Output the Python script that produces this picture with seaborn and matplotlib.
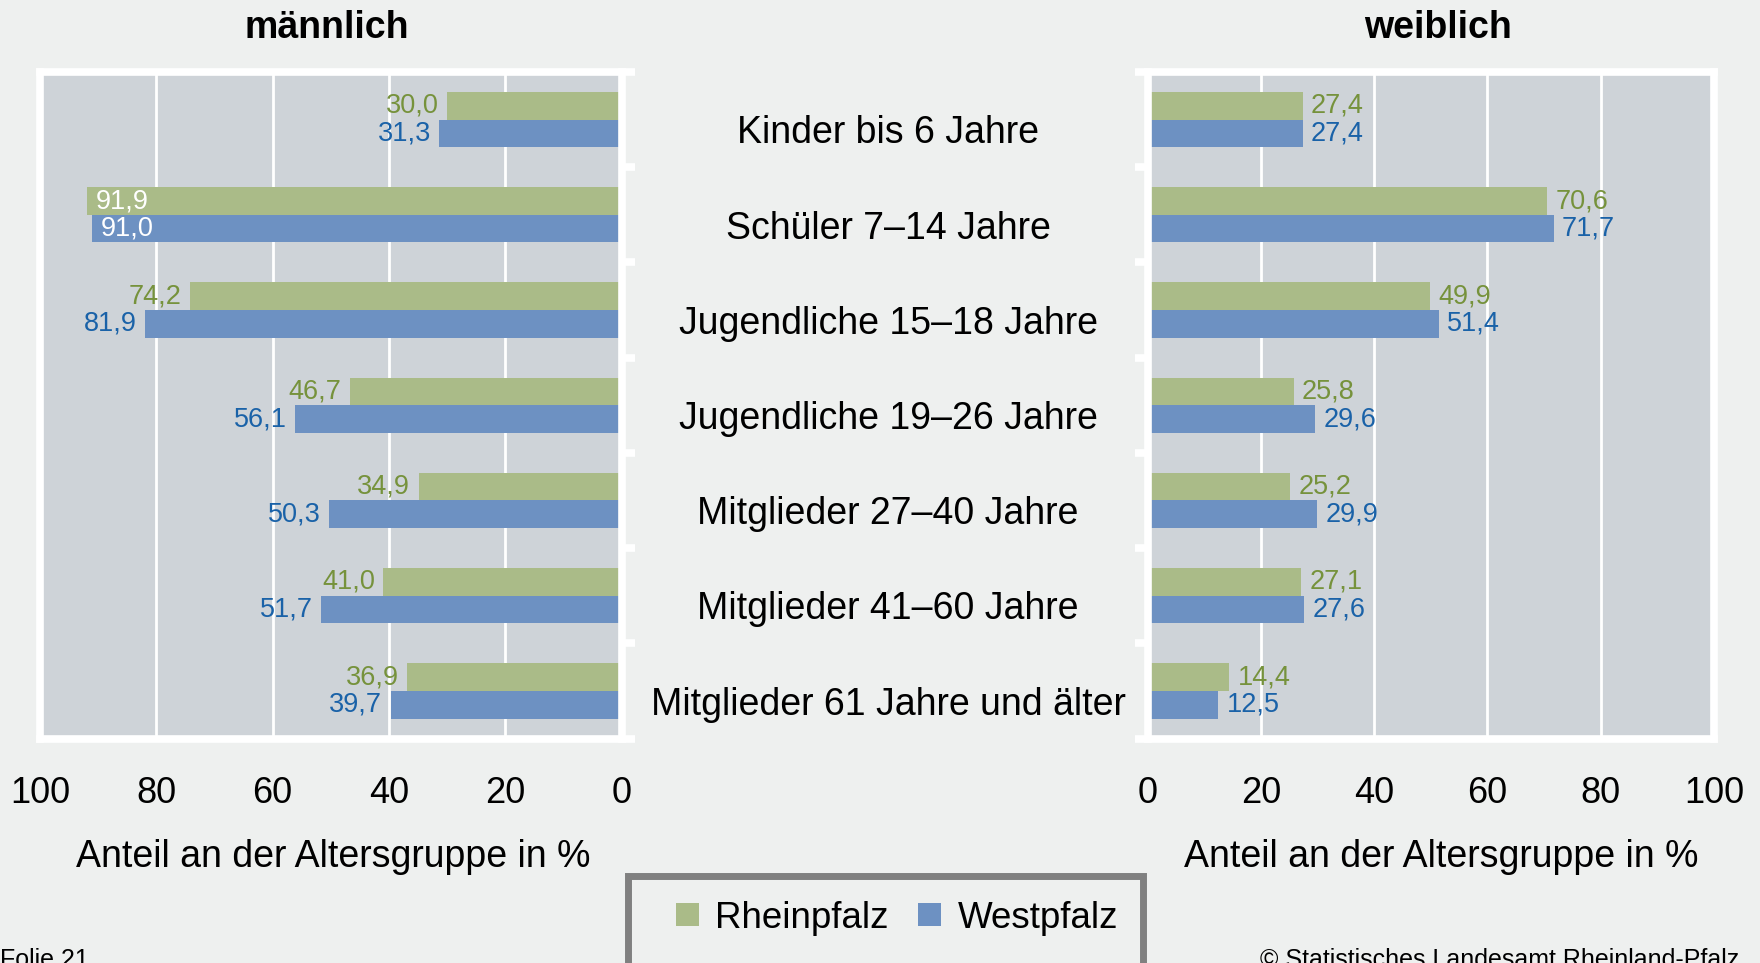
import numpy as np
import pandas as pd
import matplotlib
matplotlib.use('Agg')
import matplotlib.pyplot as plt
import matplotlib.transforms as mtransforms
from matplotlib.patches import Patch, Rectangle
import seaborn as sns

# data
gruppen = ["Kinder bis 6 Jahre", "Schüler 7–14 Jahre", "Jugendliche 15–18 Jahre",
           "Jugendliche 19–26 Jahre", "Mitglieder 27–40 Jahre", "Mitglieder 41–60 Jahre",
           "Mitglieder 61 Jahre und älter"]
regionen = ["Rheinpfalz", "Westpfalz"]
maennlich_rhein = [30.0, 91.9, 74.2, 46.7, 34.9, 41.0, 36.9]
maennlich_west = [31.3, 91.0, 81.9, 56.1, 50.3, 51.7, 39.7]
weiblich_rhein = [27.4, 70.6, 49.9, 25.8, 25.2, 27.1, 14.4]
weiblich_west = [27.4, 71.7, 51.4, 29.6, 29.9, 27.6, 12.5]
x_ticks = [0, 20, 40, 60, 80, 100]

BG = '#EEF0EF'
PANEL = '#CED3D8'
GREEN = '#AABB88'
BLUE = '#6D91C2'
GREEN_TXT = '#76923C'
BLUE_TXT = '#1A62A8'

sns.set_theme(style='white', rc={'figure.facecolor': BG, 'axes.facecolor': PANEL,
                                 'text.color': 'black', 'axes.labelcolor': 'black'})
plt.rcParams['font.family'] = ['Liberation Sans', 'DejaVu Sans']

W, H = 1760, 963


def make_df(rhein, west):
    return pd.DataFrame({
        'Gruppe': gruppen * 2,
        'Region': [regionen[0]] * len(gruppen) + [regionen[1]] * len(gruppen),
        'Wert': list(rhein) + list(west),
    })


fig = plt.figure(figsize=(W / 100, H / 100), dpi=100)
axL = fig.add_axes([40 / W, 1 - 738.5 / H, 581.5 / W, 666.5 / H])
axR = fig.add_axes([1147.5 / W, 1 - 738.5 / H, 566.5 / W, 666.5 / H])

# (axes, data, title, mirrored x, title x in px, x label position in axes fraction)
panels = [
    (axL, make_df(maennlich_rhein, maennlich_west), 'männlich', True, 326.6, 0.504),
    (axR, make_df(weiblich_rhein, weiblich_west), 'weiblich', False, 1438, 0.518),
]

ylim = (6.5, -0.5)
for ax, df, title, mirrored, title_x, label_x in panels:
    sns.barplot(data=df, y='Gruppe', x='Wert', hue='Region', order=gruppen,
                hue_order=regionen, palette=[GREEN, BLUE], saturation=1,
                width=0.58, orient='h', linewidth=0, legend=False, ax=ax)
    ax.set_ylim(*ylim)
    if mirrored:
        ax.set_xlim(100, 0)
    else:
        ax.set_xlim(0, 100)
    ax.set_xticks(x_ticks)
    ax.set_xticklabels([str(t) for t in x_ticks], fontsize=26, color='black')
    ax.set_yticks([ylim[1], 0.5, 1.5, 2.5, 3.5, 4.5, 5.5, ylim[0]])
    ax.set_yticklabels([])
    ax.set_ylabel('')
    ax.set_xlabel('Anteil an der Altersgruppe in %', fontsize=27, labelpad=20)
    ax.xaxis.label.set_x(label_x)
    fig.text(title_x / W, 1 - 28.3 / H, title, ha='center', va='center',
             fontsize=27, fontweight='bold')
    ax.set_axisbelow(True)
    ax.grid(axis='x', color='white', linewidth=2)
    for sp in ax.spines.values():
        sp.set_color('white')
        sp.set_linewidth(5.5)
    ax.tick_params(axis='x', colors='white', width=5.5, length=9.5, pad=17.5, labelcolor='black')
    if mirrored:
        ax.tick_params(axis='y', left=False, right=True, colors='white', width=5.5, length=9.5)
    else:
        ax.tick_params(axis='y', left=True, right=False, colors='white', width=5.5, length=9.5)

    # value labels: outside the bar end, inside (white) for the longest bars
    vals = df['Wert'].to_numpy()
    n = len(gruppen)
    for j, (off, col) in enumerate([(-0.145, GREEN_TXT), (0.145, BLUE_TXT)]):
        for i in range(n):
            v = vals[j * n + i]
            lbl = f'{v:.1f}'.replace('.', ',')
            if v > 85:
                ax.annotate(lbl, (v, i + off), xytext=(6, 0), textcoords='offset points',
                            ha='left', va='center', color='white', fontsize=19.5)
            else:
                ax.annotate(lbl, (v, i + off), xytext=(-6 if mirrored else 6, 0),
                            textcoords='offset points', ha='right' if mirrored else 'left',
                            va='center', color=col, fontsize=19.5)

# category labels in the middle
trans = mtransforms.blended_transform_factory(fig.transFigure, axL.transData)
for i, g in enumerate(gruppen):
    fig.text(888 / W, i + 0.25, g, transform=trans, ha='center', va='baseline',
             fontsize=27, color='black')

# legend box (runs past the bottom edge like in the original)
fig.patches.append(Rectangle((628 / W, 1 - 975 / H), 515 / W, 99 / H, transform=fig.transFigure,
                             facecolor='none', edgecolor='#808080', linewidth=5, zorder=5))
handles = [Patch(facecolor=GREEN, edgecolor='none'), Patch(facecolor=BLUE, edgecolor='none')]
leg = fig.legend(handles, regionen, loc='center', bbox_to_anchor=(897 / W, 1 - 918 / H),
                 ncol=2, fontsize=26.5, frameon=False, borderpad=0.2,
                 handlelength=0.62, handleheight=0.62, handletextpad=0.45, columnspacing=0.8)

fig.text(0.0, 1 - 948 / H, 'Folie 21', ha='left', va='top', fontsize=18)
fig.text(1260 / W, 1 - 948 / H, '© Statistisches Landesamt Rheinland-Pfalz',
         ha='left', va='top', fontsize=18)

fig.savefig('out.png', dpi=100, facecolor=BG)
